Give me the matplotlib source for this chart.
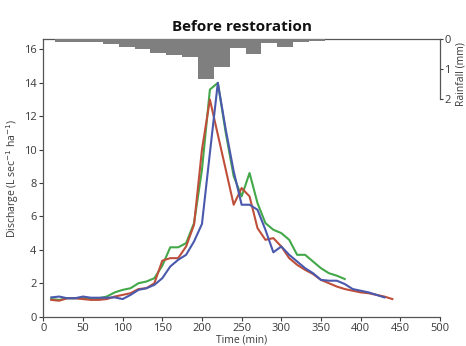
import matplotlib
matplotlib.use('Agg')
import matplotlib.pyplot as plt

plt.rcParams['font.family'] = ['Open Sans', 'DejaVu Sans']

# rainfall, 20-min bins
rain_t = [25, 45, 65, 85, 105, 125, 145, 165, 185, 205, 225, 245, 265, 285, 305, 325, 345]
rain_mm = [0.10, 0.10, 0.10, 0.14, 0.24, 0.33, 0.44, 0.52, 0.58, 1.33, 0.93, 0.27, 0.47, 0.13, 0.24, 0.09, 0.04]

# discharge, 10-min samples
t_green = list(range(10, 390, 10))
q_green = [1.05, 1.0, 1.1, 1.1, 1.1, 1.1, 1.1, 1.2, 1.45, 1.6, 1.7, 2.0, 2.1, 2.3, 3.05, 4.15, 4.15, 4.4, 5.6,
           8.8, 13.6, 14.0, 11.0, 8.4, 7.2, 8.6, 6.8, 5.6, 5.2, 5.0, 4.6, 3.7, 3.7, 3.3, 2.9, 2.6, 2.45, 2.25]

t_red = list(range(10, 450, 10))
q_red = [1.0, 0.95, 1.1, 1.1, 1.05, 1.0, 1.0, 1.05, 1.2, 1.3, 1.4, 1.65, 1.7, 2.0, 3.35, 3.5, 3.5, 4.2, 5.5,
         10.0, 13.0, 10.9, 8.8, 6.7, 7.7, 7.2, 5.3, 4.6, 4.7, 4.2, 3.5, 3.1, 2.8, 2.55, 2.2, 2.0, 1.8, 1.65,
         1.55, 1.45, 1.4, 1.3, 1.2, 1.05]

t_blue = list(range(10, 440, 10))
q_blue = [1.15, 1.2, 1.1, 1.1, 1.2, 1.13, 1.13, 1.13, 1.15, 1.05, 1.3, 1.6, 1.7, 1.9, 2.3, 3.0, 3.4, 3.7, 4.5,
          5.55, 9.8, 14.0, 11.2, 8.7, 6.7, 6.7, 6.4, 5.2, 3.85, 4.2, 3.7, 3.3, 2.9, 2.6, 2.2, 2.15, 2.15, 1.95,
          1.65, 1.55, 1.45, 1.3, 1.15]

txt = '#3a3a3a'

fig = plt.figure(figsize=(4.66, 3.46), dpi=100)
ax = fig.add_axes([0.093, 0.085, 0.851, 0.801])

ax.plot(t_green, q_green, color='#43a84a', lw=1.5)
ax.plot(t_red, q_red, color='#bf4f3a', lw=1.5)
ax.plot(t_blue, q_blue, color='#4a59ad', lw=1.5)

ax.set_xlim(0, 500)
ax.set_ylim(0, 16.6)
ax.set_xticks(range(0, 501, 50))
ax.set_yticks(range(0, 17, 2))
ax.tick_params(labelsize=8, colors=txt, length=3, width=0.8, pad=2)
ax.tick_params(axis='x', pad=1.5)
for s in ['left', 'bottom', 'top']:
    ax.spines[s].set_color('#555555')
    ax.spines[s].set_linewidth(0.9)
ax.spines['right'].set_visible(False)
ax.set_xlabel('Time (min)', fontsize=7.5, color=txt)
ax.xaxis.set_label_coords(0.5, -0.064)
ax.set_ylabel('Discharge (L sec$^{-1}$ ha$^{-1}$)', fontsize=7.5, color=txt)
ax.yaxis.set_label_coords(-0.056, 0.5)
ax.set_title('Before restoration', fontsize=11, fontweight='bold', color='#111111', pad=6)

# rainfall on inverted right axis
ax2 = ax.twinx()
ax2.bar(rain_t, rain_mm, width=20, color='#7f7f7f', edgecolor='none')
ax2.set_ylim(9.24, 0)
ax2.set_yticks([0, 1, 2])
ax2.spines['right'].set_bounds(0, 2)
ax2.spines['right'].set_color('#555555')
ax2.spines['right'].set_linewidth(0.9)
for s in ['left', 'bottom', 'top']:
    ax2.spines[s].set_visible(False)
ax2.tick_params(labelsize=8, colors=txt, length=2, width=0.8, pad=1)
ax2.set_ylabel('Rainfall (mm)', fontsize=7.5, color=txt)
ax2.yaxis.set_label_coords(1.04, 0.875)

fig.savefig('out.png', dpi=100)
